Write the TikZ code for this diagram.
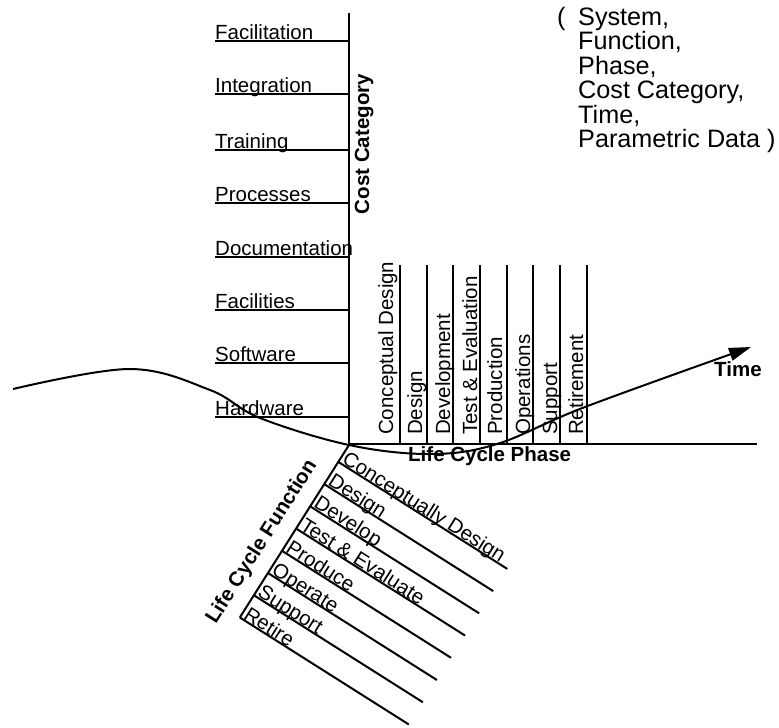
\documentclass[tikz,border=0pt]{standalone}
\usepackage{fontspec}
\setmainfont{Liberation Sans}
\usetikzlibrary{arrows.meta}
\begin{document}
\begin{tikzpicture}[x=1pt,y=-1pt,
  lbl/.style={inner sep=0pt, font=\fontsize{20.5}{24}\selectfont},
  blbl/.style={inner sep=0pt, font=\fontsize{20.5}{24}\selectfont\bfseries},
  big/.style={inner sep=0pt, font=\fontsize{25.2}{25}\selectfont},
  ln/.style={line width=2pt},
]
\useasboundingbox (0,0) rectangle (779,728);

% cost category axis
\coordinate (ctop) at (349,13);
\coordinate (origin) at (349,445);
\draw[ln] (ctop) -- (origin);
\foreach \y/\t in {41/Facilitation, 94/Integration, 150/Training, 203/Processes, 257/Documentation, 310/Facilities, 363/Software, 417/Hardware} {
  \node[lbl, anchor=base west] (cc\y) at (215,\y-2) {\t};
  \coordinate (ce\y) at (349,\y);
  \draw[ln] (cc\y.base west |- ce\y) -- (ce\y);
}
\node[blbl, rotate=90, anchor=base] (costcat) at (369,144) {Cost Category};

% life cycle phase axis
\coordinate (pend) at (757,444);
\draw[ln] (349,444) -- (pend);
\foreach \lx/\bx/\t in {400/393/Conceptual Design, 427/422/Design, 453/450/Development, 480/477/Test \& Evaluation, 507/502/Production, 533/530/Operations, 560/557/Support, 587/583/Retirement}{
  \draw[ln] (\lx,265) -- (\lx,444);
  \node[lbl, anchor=base west, rotate=90] (ph\lx) at (\bx,435) {\t};
}
\node[blbl, anchor=base west] (lcp) at (408,461) {Life Cycle Phase};

% life cycle function axis
\coordinate (fbot) at (239.8,617.5);
\draw[ln] (origin) -- (fbot);
\foreach \i/\t in {1/Conceptually Design, 2/Design, 3/Develop, 4/Test \& Evaluate, 5/Produce, 6/Operate, 7/Support, 8/Retire}{
  \pgfmathsetmacro\o{20+(\i-1)*26.3}
  \coordinate (fs\i) at ({349-0.535*\o},{445+0.845*\o});
  \draw[ln] (fs\i) -- ++(169,107);
  \node[lbl, anchor=base west, rotate=-32.3] (fn\i) at ([shift={(2.6,0.5)}]fs\i) {\t};
}
\node[blbl, rotate=57.7] (lcf) at (262,542) {Life Cycle Function};

% tuple text
\node[big, anchor=base west] (paren) at (557,25) {(};
\foreach \k/\t in {0/System{,}, 1/Function{,}, 2/Phase{,}, 3/Cost Category{,}, 4/Time{,}, 5/Parametric Data )}{
  \node[big, anchor=base west] (tp\k) at (578,{25+24.5*\k}) {\t};
}

% time curve
\draw[ln, -{Triangle[length=22pt,width=13pt]}] plot[smooth, tension=0.6] coordinates {(13,389) (130,369) (210,390) (260,418) (349,445) (430,454) (497,444) (585,407) (751,347)};
\node[blbl, anchor=base west] (time) at (714,376) {Time};
\end{tikzpicture}
\end{document}
